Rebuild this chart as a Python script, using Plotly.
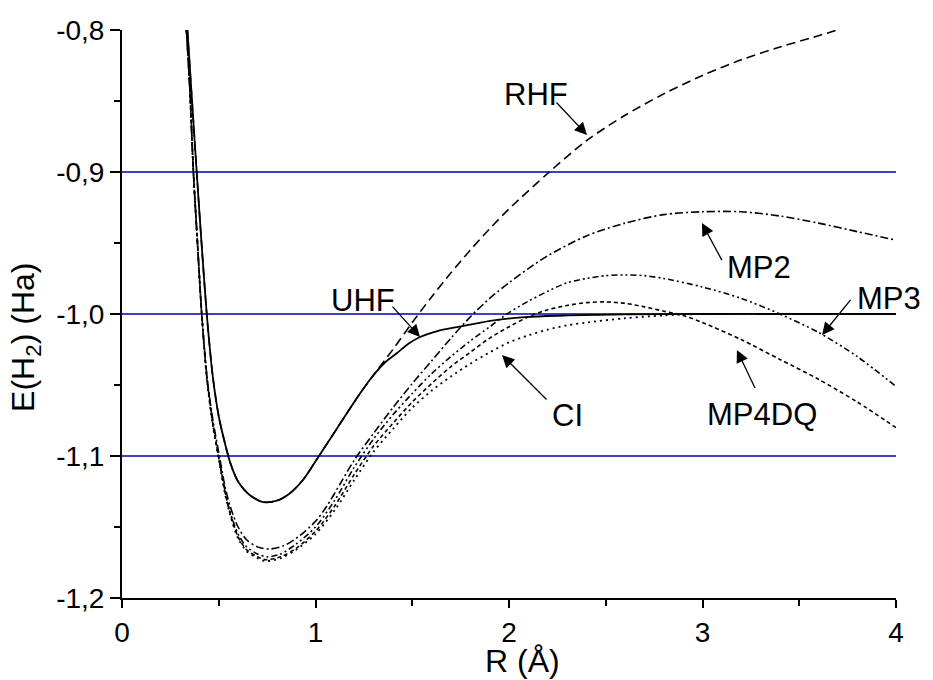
import plotly.graph_objects as go

# ---- potential energy curves of H2 (R in angstrom, E in hartree) ----
uhf_r = [0.338, 0.362, 0.386, 0.411, 0.438, 0.47, 0.50, 0.53, 0.56, 0.60, 0.66, 0.73, 0.80,
         0.87, 0.94, 1.013, 1.09, 1.163, 1.23, 1.292, 1.36, 1.421, 1.48, 1.54, 1.63, 1.731,
         1.84, 1.938, 2.1, 2.3, 2.6, 3.0, 3.5, 4.0]
uhf_e = [-0.80, -0.85, -0.90, -0.95, -1.00, -1.045, -1.072, -1.090, -1.105, -1.118, -1.1275,
         -1.1324, -1.1315, -1.126, -1.116, -1.101, -1.085, -1.0697, -1.056, -1.0444, -1.034,
         -1.0275, -1.021, -1.0162, -1.012, -1.0092, -1.0064, -1.0042, -1.002, -1.001, -1.0003,
         -1.0, -1.0, -1.0]

rhf_r = [0.338, 0.362, 0.386, 0.411, 0.438, 0.47, 0.50, 0.53, 0.56, 0.60, 0.66, 0.73, 0.80,
         0.87, 0.94, 1.013, 1.09, 1.163, 1.23, 1.30, 1.4, 1.5, 1.6, 1.7, 1.8, 1.9, 2.0, 2.2,
         2.4, 2.6, 2.8, 3.0, 3.2, 3.4, 3.6, 3.72]
rhf_e = [-0.80, -0.85, -0.90, -0.95, -1.00, -1.045, -1.072, -1.090, -1.105, -1.118, -1.1275,
         -1.1324, -1.1315, -1.126, -1.116, -1.101, -1.085, -1.0697, -1.056, -1.043, -1.025,
         -1.006, -0.988, -0.971, -0.955, -0.940, -0.926, -0.901, -0.878, -0.860, -0.845,
         -0.832, -0.821, -0.812, -0.804, -0.799]

mp2_r = [0.333, 0.35, 0.369, 0.39, 0.412, 0.44, 0.47, 0.506, 0.53, 0.558, 0.60, 0.644, 0.70,
         0.765, 0.84, 0.92, 1.0, 1.06, 1.13, 1.2, 1.3, 1.4, 1.5, 1.6, 1.7, 1.8, 1.9, 2.0, 2.1,
         2.2, 2.4, 2.6, 2.8, 3.0, 3.2, 3.4, 3.6, 3.8, 4.0]
mp2_e = [-0.80, -0.84, -0.90, -0.95, -1.0, -1.045, -1.075, -1.102, -1.120, -1.135, -1.150,
         -1.159, -1.164, -1.1655, -1.163, -1.156, -1.146, -1.135, -1.119, -1.103, -1.084,
         -1.066, -1.049, -1.033, -1.017, -1.002, -0.989, -0.978, -0.968, -0.959, -0.945,
         -0.936, -0.930, -0.928, -0.928, -0.931, -0.936, -0.942, -0.948]

mp3_r = [0.333, 0.35, 0.369, 0.39, 0.412, 0.44, 0.47, 0.506, 0.53, 0.558, 0.60, 0.644, 0.70,
         0.75, 0.82, 0.90, 1.0, 1.1, 1.2, 1.3, 1.4, 1.5, 1.6, 1.7, 1.8, 1.9, 2.0, 2.1, 2.2,
         2.3, 2.4, 2.5, 2.6, 2.7, 2.8, 3.0, 3.2, 3.4, 3.6, 3.8, 4.0]
mp3_e = [-0.80, -0.84, -0.90, -0.95, -1.0, -1.046, -1.077, -1.105, -1.123, -1.139, -1.155,
         -1.164, -1.169, -1.171, -1.169, -1.162, -1.150, -1.131, -1.108, -1.088, -1.071,
         -1.056, -1.042, -1.030, -1.019, -1.009, -0.999, -0.991, -0.984, -0.978, -0.975,
         -0.973, -0.9725, -0.973, -0.975, -0.981, -0.989, -1.000, -1.013, -1.030, -1.051]

mp4dq_r = [0.333, 0.35, 0.369, 0.39, 0.412, 0.44, 0.47, 0.506, 0.53, 0.558, 0.60, 0.644, 0.70,
           0.74, 0.82, 0.90, 1.0, 1.1, 1.2, 1.3, 1.4, 1.5, 1.6, 1.7, 1.8, 1.9, 2.0, 2.1, 2.2,
           2.3, 2.4, 2.5, 2.6, 2.7, 2.8, 2.9, 3.0, 3.2, 3.4, 3.6, 3.8, 4.0]
mp4dq_e = [-0.80, -0.84, -0.90, -0.95, -1.0, -1.047, -1.078, -1.106, -1.124, -1.140, -1.157,
           -1.166, -1.171, -1.173, -1.171, -1.165, -1.153, -1.135, -1.113, -1.093, -1.077,
           -1.062, -1.049, -1.037, -1.027, -1.017, -1.009, -1.002, -0.997, -0.994, -0.992,
           -0.9915, -0.9925, -0.995, -0.998, -1.001, -1.006, -1.018, -1.032, -1.046, -1.062,
           -1.080]

ci_r = [0.333, 0.35, 0.369, 0.39, 0.412, 0.44, 0.47, 0.506, 0.53, 0.558, 0.60, 0.644, 0.70,
        0.74, 0.82, 0.90, 1.0, 1.1, 1.2, 1.3, 1.4, 1.5, 1.6, 1.7, 1.8, 1.9, 2.0, 2.1, 2.2,
        2.3, 2.4, 2.6, 2.8, 3.0, 3.5, 4.0]
ci_e = [-0.80, -0.84, -0.90, -0.95, -1.0, -1.048, -1.079, -1.107, -1.125, -1.141, -1.158,
        -1.167, -1.172, -1.174, -1.172, -1.166, -1.155, -1.138, -1.117, -1.097, -1.081,
        -1.066, -1.054, -1.044, -1.035, -1.027, -1.020, -1.015, -1.011, -1.008, -1.006,
        -1.003, -1.001, -1.0, -1.0, -1.0]

# reference levels and axis ticks
ref_levels = [-0.9, -1.0, -1.1]
x_ticks = [0, 1, 2, 3, 4]
x_ticktext = ["0", "1", "2", "3", "4"]
y_ticks = [-1.2, -1.1, -1.0, -0.9, -0.8]
y_ticktext = ["-1,2", "-1,1", "-1,0", "-0,9", "-0,8"]

FONT = "Liberation Sans, Arial, sans-serif"

series = [
    (rhf_r, rhf_e, "9px,5px", 1.6),
    (mp2_r, mp2_e, "8px,3px,2px,3px", 1.6),
    (mp3_r, mp3_e, "6px,3px,2px,3px,2px,3px", 1.6),
    (mp4dq_r, mp4dq_e, "4px,3px", 1.6),
    (ci_r, ci_e, "2px,4px", 1.8),
    (uhf_r, uhf_e, "solid", 1.8),
]

fig = go.Figure()
for r, e, dash, w in series:
    fig.add_trace(go.Scatter(
        x=r, y=e, mode="lines",
        line=dict(color="black", width=w, dash=dash, shape="spline", smoothing=0.8),
        hoverinfo="skip",
    ))

for lvl in ref_levels:
    fig.add_shape(type="line", xref="x", yref="y", x0=0, x1=4, y0=lvl, y1=lvl,
                  line=dict(color="#0000b4", width=1.3), layer="below")

# curve labels: (text, arrow tip R, arrow tip E, arrow tail offset px, text centre offset px)
labels = [
    ("RHF", 2.403, -0.8739, (-32, -34), (-51, -40)),
    ("UHF", 1.540, -1.0162, (-29, -32), (-57, -37)),
    ("MP2", 2.997, -0.936, (21, 39), (57, 44)),
    ("MP3", 3.618, -1.0148, (30, -37), (67, -37)),
    ("MP4DQ", 3.178, -1.0254, (19, 40), (25, 64)),
    ("CI", 1.964, -1.0289, (46, 46), (65, 60)),
]
for txt, xr, ye, (tx, ty), (dx, dy) in labels:
    fig.add_annotation(x=xr, y=ye, xref="x", yref="y", text=" ", showarrow=True,
                       ax=tx, ay=ty, arrowhead=2, arrowsize=1.9, arrowwidth=1.3,
                       arrowcolor="black", standoff=0, font=dict(size=1))
    fig.add_annotation(x=xr, y=ye, xref="x", yref="y", text=txt, showarrow=False,
                       xshift=dx, yshift=-dy, xanchor="center", yanchor="middle",
                       font=dict(family=FONT, size=31, color="black"))

# axis titles
fig.add_annotation(x=-0.124, y=0.458, xref="paper", yref="paper",
                   text="E(H<sub>2</sub>) (Ha)", textangle=-90, showarrow=False,
                   xanchor="center", yanchor="middle",
                   font=dict(family=FONT, size=32, color="black"))
fig.add_annotation(x=0.518, y=-0.111, xref="paper", yref="paper",
                   text="R (Å)", showarrow=False, xanchor="center", yanchor="middle",
                   font=dict(family=FONT, size=32, color="black"))

fig.update_layout(
    width=933, height=680,
    margin=dict(l=122, r=37, t=30, b=82),
    paper_bgcolor="white", plot_bgcolor="white",
    showlegend=False,
    font=dict(family=FONT, color="black"),
    xaxis=dict(range=[0, 4], tickvals=x_ticks, ticktext=x_ticktext,
               ticks="outside", ticklen=8, tickwidth=2, tickcolor="black",
               showline=True, linewidth=2, linecolor="black",
               showgrid=False, zeroline=False,
               tickfont=dict(family=FONT, size=28, color="black"),
               minor=dict(dtick=0.5, tick0=0, ticks="outside", ticklen=6,
                          tickwidth=2, tickcolor="black", showgrid=False)),
    yaxis=dict(range=[-1.2, -0.8], tickvals=y_ticks, ticktext=y_ticktext,
               ticks="outside", ticklen=10, tickwidth=2, tickcolor="black",
               showline=True, linewidth=2, linecolor="black",
               showgrid=False, zeroline=False,
               tickfont=dict(family=FONT, size=28, color="black"),
               minor=dict(dtick=0.05, tick0=-1.2, ticks="outside", ticklen=6,
                          tickwidth=2, tickcolor="black", showgrid=False)),
)

fig.write_html("out.html")
